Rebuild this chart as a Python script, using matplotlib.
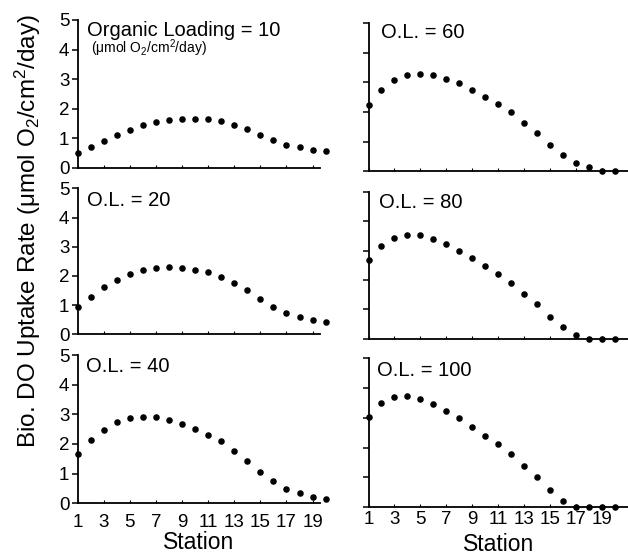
import matplotlib
matplotlib.use("Agg")
import matplotlib.pyplot as plt
import numpy as np

plt.rcParams['font.family'] = ['Liberation Sans', 'DejaVu Sans']
plt.rcParams['mathtext.fontset'] = 'custom'
plt.rcParams['mathtext.rm'] = 'Liberation Sans'
plt.rcParams['mathtext.it'] = 'Liberation Sans:italic'
plt.rcParams['mathtext.default'] = 'regular'

stations = list(range(1, 21))
xtick_labels = [1, 3, 5, 7, 9, 11, 13, 15, 17, 19]

ol10 = [0.52, 0.72, 0.92, 1.12, 1.30, 1.44, 1.54, 1.61, 1.67, 1.67,
        1.65, 1.59, 1.46, 1.32, 1.12, 0.94, 0.79, 0.70, 0.61, 0.58]
ol20 = [0.95, 1.29, 1.61, 1.86, 2.05, 2.19, 2.28, 2.31, 2.27, 2.21,
        2.13, 1.96, 1.76, 1.51, 1.21, 0.95, 0.72, 0.59, 0.48, 0.41]
ol40 = [1.65, 2.13, 2.48, 2.74, 2.87, 2.92, 2.90, 2.81, 2.67, 2.49,
        2.31, 2.09, 1.75, 1.42, 1.06, 0.74, 0.48, 0.34, 0.22, 0.15]
ol60 = [2.24, 2.74, 3.08, 3.24, 3.30, 3.24, 3.13, 2.99, 2.75, 2.52,
        2.28, 2.00, 1.63, 1.29, 0.89, 0.55, 0.28, 0.13, 0.02, 0.0]
ol80 = [2.68, 3.16, 3.44, 3.52, 3.52, 3.39, 3.23, 3.00, 2.74, 2.49,
        2.22, 1.91, 1.52, 1.18, 0.75, 0.41, 0.13, 0.0, 0.0, 0.0]
ol100 = [3.03, 3.48, 3.71, 3.72, 3.63, 3.47, 3.24, 2.98, 2.70, 2.40,
         2.11, 1.80, 1.37, 1.00, 0.58, 0.21, 0.0, 0.0, 0.0, 0.0]

W, H = 628, 556
fig = plt.figure(figsize=(W / 100, H / 100), dpi=100)

def px_axes(x0, x1, ytop, ybot):
    return fig.add_axes([x0 / W, 1 - ybot / H, (x1 - x0) / W, (ybot - ytop) / H])

# (x0, x1, y5, y0, xmax, series, label, label_xy, is_left, bottom, xpad, labelpad)
panels = [
    (77.7, 320, 20, 168, 19.57, ol10, None, None, True, False, 0, 0),
    (368.5, 628, 23.3, 171.3, 21.0, ol60, 'O.L. = 60', (381, 33), False, False, 0, 0),
    (77.7, 320, 188.3, 334.3, 19.57, ol20, 'O.L. = 20', (87, 200), True, False, 0, 0),
    (368.5, 628, 192, 338.7, 21.0, ol80, 'O.L. = 80', (379, 202), False, False, 0, 0),
    (77.7, 320, 355, 503.3, 19.57, ol40, 'O.L. = 40', (86, 367), True, True, 8, 0),
    (368.5, 628, 358, 507.3, 21.0, ol100, 'O.L. = 100', (377, 370), False, True, 3, 3),
]

for (x0, x1, ytop, ybot, xmax, vals, lab, lxy, is_left, bottom, xpad, lpad) in panels:
    ax = px_axes(x0, x1, ytop, ybot)
    ax.plot(stations, vals, 'o', color='black', markersize=3.7, clip_on=False, zorder=3)
    ax.set_xlim(1, xmax)
    ax.set_ylim(0, 5)
    ax.spines['top'].set_visible(False)
    ax.spines['right'].set_visible(False)
    ax.spines['left'].set_linewidth(1.3)
    ax.spines['bottom'].set_linewidth(1.3)
    ax.set_yticks([0, 1, 2, 3, 4, 5])
    ax.tick_params(axis='y', direction='out', length=4, width=1.1, labelsize=13.5, pad=2)
    ax.set_xticks(xtick_labels)
    ax.tick_params(axis='x', direction='in', length=2, width=0.8, labelsize=13.5, pad=xpad)
    if not is_left:
        ax.set_yticklabels([])
    if not bottom:
        ax.set_xticklabels([])
    else:
        ax.set_xticklabels([str(v) for v in xtick_labels])
        ax.set_xlabel('Station', fontsize=16.5, labelpad=lpad)
    if lab is not None:
        fig.text(lxy[0] / W, 1 - lxy[1] / H, lab, fontsize=14.5, va='center', ha='left')

fig.text(87 / W, 1 - 30 / H, 'Organic Loading = 10', fontsize=14.5, va='center', ha='left')
fig.text(91 / W, 1 - 48.5 / H, r'($\mu$mol O$_2$/cm$^2$/day)', fontsize=10, va='center', ha='left')

fig.text(28 / W, 1 - 231 / H, r'Bio. DO Uptake Rate ($\mu$mol O$_2$/cm$^2$/day)',
         fontsize=17.5, rotation=90, va='center', ha='center')

fig.savefig('out.png', dpi=100)
